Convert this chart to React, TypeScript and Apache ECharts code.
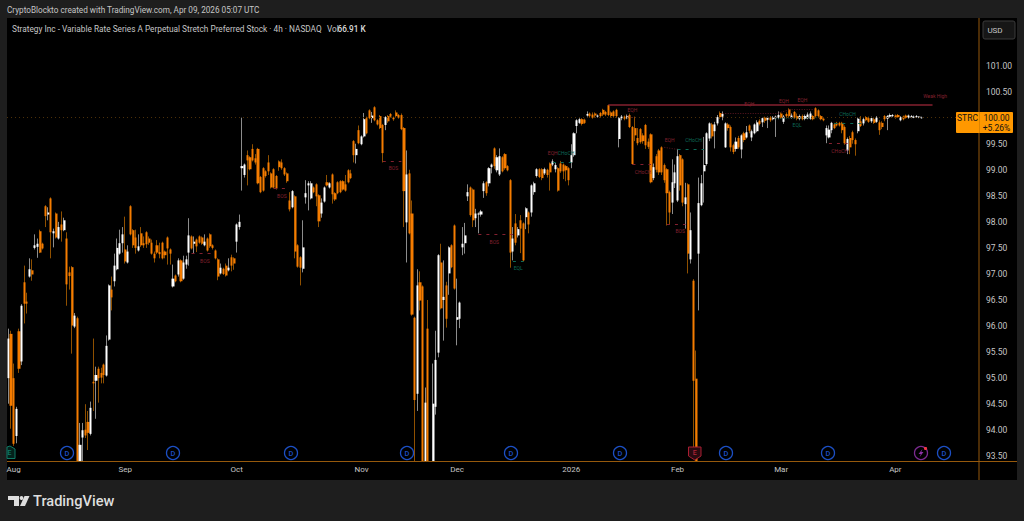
import React, { useEffect, useRef } from "react";
import * as echarts from "echarts";

// [open, close, low, high]
const barsAug = [
[95.0,95.76,94.51,95.95],[95.85,94.47,94.03,95.91],[95.0,93.74,93.7,95.28],[93.89,94.41,93.75,94.45],[95.9,95.18,95.1,95.95],[95.32,96.39,95.25,96.42],[96.84,96.43,96.05,97.16],[96.47,96.43,96.24,96.64],[96.95,97.09,96.93,97.3],[97.07,96.99,96.87,97.28],[97.5,97.55,97.47,97.76],[97.52,97.58,97.31,97.68],[97.82,97.41,97.4,97.85],[97.58,97.49,97.47,97.6],[98.3,98.11,97.9,98.32],[98.14,98.18,98.03,98.28],[98.45,97.8,97.3,98.47],[97.78,97.82,97.51,97.87],[98.16,97.7,97.68,98.18],[97.68,97.9,97.66,98.0],[97.95,97.84,97.62,98.2],[97.84,98.03,97.82,98.08],[97.68,96.8,96.39,97.8],[97.03,96.96,96.7,97.14],[97.13,96.01,95.47,97.15],[95.99,96.2,95.96,96.25],[96.15,93.3,93.2,96.18],[93.3,93.72,93.2,94.14],[93.86,94.0,93.3,94.14],[94.01,93.9,93.85,94.5],[94.16,93.95,93.62,94.37],[93.93,94.43,93.9,94.55],[94.93,94.9,94.37,95.76],[94.95,95.06,94.22,95.22],[95.18,95.0,94.53,95.22],[95.1,95.01,94.9,95.2],[95.26,95.06,94.9,95.28],[95.05,95.62,95.03,95.82],[95.74,96.78,95.72,96.8],[96.7,96.55,96.3,96.95],[96.86,97.16,96.76,97.39],[97.09,97.5,97.07,97.68],[97.39,97.59,97.37,97.85],[97.59,97.76,97.41,97.9],
];
const barsSep = [
[97.47,97.24,97.2,98.1],[97.22,97.43,97.2,97.55],[98.3,97.76,97.74,98.32],[97.84,97.55,97.5,97.86],[97.7,97.5,97.39,97.85],[97.45,97.53,97.43,97.76],[97.78,97.55,97.52,97.9],[97.59,97.55,97.5,97.72],[97.8,97.57,97.5,97.82],[97.68,97.6,97.56,97.72],[97.6,97.39,97.37,97.66],[97.39,97.3,97.22,97.43],[97.55,97.41,97.38,97.65],[97.42,97.38,97.3,97.6],[97.6,97.3,97.28,97.62],[97.43,97.36,97.3,97.45],[97.7,97.49,97.18,97.72],[97.47,97.39,97.18,97.49],[96.76,96.91,96.74,97.18],[96.97,96.86,96.84,96.99],[96.99,97.26,96.95,97.3],[97.26,96.86,96.84,97.28],[96.91,97.22,96.89,97.35],[97.18,97.28,97.1,97.35],[97.41,97.74,97.16,98.07],[97.72,97.49,97.47,97.74],[97.58,97.62,97.4,97.72],[97.66,97.53,97.42,97.68],[97.72,97.6,97.58,97.74],[97.7,97.58,97.56,97.72],[97.55,97.62,97.53,97.76],[97.68,97.45,97.43,97.7],[97.76,97.53,97.5,97.78],[97.55,97.5,97.47,97.57],[97.45,97.3,97.28,97.47],[97.28,96.95,96.88,97.3],[97.01,97.12,96.99,97.2],[97.1,97.0,96.98,97.12],[97.16,96.97,96.95,97.2],[97.07,97.12,97.05,97.3],[97.32,97.16,97.05,97.37],[97.3,97.2,97.08,97.32],
];
const barsOct = [
[97.62,97.95,97.41,97.97],[97.9,98.0,97.85,98.14],[99.03,99.07,98.6,100.0],[98.9,99.1,98.85,99.12],[99.28,99.18,98.7,99.37],[99.24,99.01,98.99,99.26],[99.4,99.18,99.16,99.49],[99.22,99.14,99.1,99.3],[99.4,98.74,98.72,99.42],[98.86,98.57,98.55,98.88],[99.03,98.6,98.58,99.05],[98.97,98.88,98.85,98.99],[99.14,98.97,98.9,99.28],[98.93,98.66,98.64,98.95],[99.01,98.66,98.64,99.03],[98.88,98.64,98.62,98.9],[99.16,99.05,98.98,99.18],[99.14,99.03,99.0,99.2],[99.03,98.91,98.88,99.05],[98.93,98.78,98.75,98.95],[98.41,98.24,98.2,98.57],[98.28,98.59,98.26,98.61],[98.49,97.43,97.3,98.51],[97.55,97.14,97.12,97.57],[97.32,97.12,96.78,97.34],[97.1,97.51,97.03,98.03],[98.47,98.55,98.35,98.8],[98.7,98.74,98.22,98.78],[98.45,98.74,98.43,98.78],[98.66,98.57,98.55,98.68],[98.72,98.49,98.3,98.74],[98.51,98.01,97.9,98.53],[98.16,98.37,98.08,98.45],[98.39,98.66,98.37,98.68],[98.76,98.7,98.68,98.9],[98.66,98.74,98.64,98.76],[98.91,98.53,98.35,98.93],[98.55,98.43,98.4,98.57],[98.76,98.55,98.53,98.78],[98.78,98.57,98.55,98.8],[98.78,98.62,98.6,98.8],[98.72,98.6,98.58,98.9],[98.99,98.76,98.74,99.01],[98.93,98.84,98.82,99.0],[99.55,99.28,99.14,99.57],[99.28,99.4,99.12,99.5],
];
const barsNov = [
[99.76,99.51,99.49,99.85],[99.49,99.64,99.47,99.66],[99.64,99.97,99.62,100.09],[99.99,99.7,99.68,100.02],[100.14,99.99,99.97,100.16],[99.99,100.04,99.9,100.11],[100.2,99.95,99.93,100.22],[99.95,99.87,99.85,99.97],[100.03,99.8,99.78,100.05],[99.86,99.32,99.14,99.88],[99.86,100.01,99.76,100.03],[100.03,99.93,99.9,100.05],[100.07,100.02,100.0,100.09],[100.0,99.97,99.94,100.02],[100.1,100.03,100.0,100.14],[100.05,100.0,99.98,100.07],[100.05,99.78,99.76,100.08],[99.8,98.59,97.9,99.82],[97.99,98.91,97.22,99.37],[98.93,97.78,97.76,99.0],[98.16,96.22,96.2,98.41],[96.16,94.58,93.3,96.18],[94.7,96.78,94.37,97.09],[96.84,96.49,96.3,97.05],[96.76,93.3,93.2,96.78],[93.3,94.53,93.2,94.82],[95.95,93.3,93.2,96.5],[93.3,93.2,93.1,93.35],[93.3,94.51,93.2,95.28],[94.45,95.35,94.3,95.91],[95.49,97.36,95.4,97.38],[97.22,96.34,96.32,97.58],[96.5,96.56,95.72,97.26],[96.78,96.14,95.97,96.85],[97.01,97.51,96.6,97.53],[97.55,97.13,97.11,97.57],
];
const barsDec = [
[97.93,96.72,96.7,97.95],[96.12,96.17,95.63,96.91],[96.14,96.45,95.96,96.47],[97.51,97.58,97.36,97.9],[97.59,97.74,97.39,97.98],[98.49,98.57,98.4,98.72],[98.66,98.13,98.1,98.68],[98.62,98.03,97.9,98.64],[98.07,98.16,97.9,98.25],[98.14,98.16,97.78,98.18],[98.14,98.2,98.1,98.23],[98.59,98.74,98.46,98.78],[98.76,98.55,98.5,98.78],[98.74,99.03,98.68,99.05],[99.05,99.1,98.93,99.12],[99.41,99.07,99.02,99.43],[98.99,99.24,98.95,99.28],[98.91,99.26,98.88,99.41],[99.24,98.97,98.95,99.26],[99.3,99.03,99.0,99.32],[99.07,98.99,98.97,99.09],[98.8,97.41,97.12,98.82],[97.43,97.68,97.26,97.9],[97.97,97.6,97.55,98.15],[97.74,97.86,97.7,97.9],[98.03,97.87,97.4,98.13],[97.97,97.26,97.24,97.99],[98.09,98.26,97.86,98.28],[98.18,97.95,97.78,98.2],[98.18,98.7,98.1,98.72],[98.57,98.74,98.52,98.77],[98.88,99.01,98.85,99.03],[99.01,98.86,98.84,99.03],[99.01,98.84,98.8,99.03],[98.93,99.01,98.9,99.04],[99.0,98.9,98.85,99.02],[99.12,98.95,98.6,99.14],[99.1,99.16,99.07,99.2],[99.01,99.09,98.95,99.13],[99.03,98.6,98.58,99.05],[99.12,98.97,98.94,99.17],[99.1,98.97,98.82,99.12],[99.07,98.99,98.78,99.09],[99.03,98.8,98.7,99.05],
];
const barsJan = [
[99.14,99.28,99.03,99.49],[99.28,99.7,99.25,99.72],[99.84,99.95,99.7,99.97],[99.9,99.97,99.88,99.99],[99.97,99.88,99.85,99.99],[99.96,99.9,99.88,99.98],[100.04,100.07,100.02,100.12],[100.08,100.03,100.0,100.1],[100.06,100.0,99.98,100.1],[100.08,100.04,100.0,100.1],[100.02,100.04,100.0,100.06],[100.09,100.03,100.0,100.11],[100.15,100.06,100.03,100.17],[100.11,100.06,100.03,100.13],[100.24,100.05,100.03,100.25],[100.1,100.03,100.0,100.12],[100.12,100.03,100.0,100.14],[100.15,100.03,100.0,100.17],[99.59,99.99,99.43,100.01],[99.99,100.02,99.95,100.05],[100.02,99.98,99.95,100.04],[99.99,100.03,99.97,100.06],[100.05,99.82,99.8,100.08],[99.82,99.11,99.1,99.84],[99.8,99.66,99.55,100.02],[99.61,99.51,99.47,99.8],[99.78,99.53,99.5,99.8],[99.66,99.55,99.5,99.7],[99.86,99.47,99.4,99.88],[99.54,99.44,99.4,99.6],[99.68,98.76,98.74,99.7],[98.84,99.05,98.8,99.12],[99.26,99.0,98.95,99.3],[99.37,98.95,98.9,99.4],[99.43,98.95,98.9,99.45],[99.09,98.8,98.75,99.12],[99.01,98.55,97.93,99.03],[98.57,98.18,97.95,98.6],[98.37,98.76,98.15,99.2],[98.74,98.95,98.65,99.1],
];
const barsFeb = [
[98.41,99.26,98.38,99.4],[99.28,98.7,98.6,99.3],[99.2,98.37,98.3,99.22],[98.34,98.47,97.87,98.75],[98.72,97.39,97.01,98.74],[97.28,97.84,97.2,98.18],[96.87,94.95,93.66,96.9],[94.99,93.3,93.2,95.53],[97.39,98.36,96.3,98.85],[98.32,98.74,98.3,98.9],[98.97,99.09,98.37,99.63],[99.11,99.7,99.08,99.72],[99.6,99.89,99.55,99.91],[99.87,99.64,99.6,99.9],[99.74,99.87,99.41,99.92],[99.89,100.01,99.85,100.05],[100.09,100.01,99.98,100.12],[100.02,100.07,99.95,100.12],[99.43,99.89,99.42,99.91],[99.87,99.8,99.75,99.9],[99.82,99.43,99.35,99.85],[99.47,99.34,99.3,99.5],[99.4,99.54,99.35,99.62],[99.61,99.43,99.4,99.65],[99.39,99.66,99.22,99.68],[99.7,99.57,99.53,99.73],[99.62,99.72,99.6,99.84],[99.85,99.75,99.7,99.87],[99.62,99.74,99.55,99.77],[99.7,99.87,99.68,99.89],[99.74,99.91,99.72,99.95],[99.94,99.88,99.85,99.97],[99.91,99.99,99.82,100.0],[100.0,99.94,99.9,100.02],[99.96,100.0,99.8,100.02],[100.0,99.95,99.92,100.03],[99.97,100.0,99.95,100.03],[100.0,100.02,99.63,100.04],[100.0,100.05,99.97,100.12],
];
const barsMar = [
[100.08,100.0,99.98,100.1],[99.92,100.02,99.88,100.05],[100.07,100.03,100.0,100.1],[100.16,100.03,100.0,100.18],[100.0,100.04,99.98,100.08],[100.11,100.0,99.98,100.13],[100.03,99.98,99.95,100.08],[99.98,100.03,99.95,100.06],[100.03,99.97,99.95,100.06],[99.98,100.03,99.95,100.06],[99.99,100.06,99.97,100.1],[99.98,100.08,99.96,100.12],[100.03,99.97,99.95,100.05],[100.18,100.03,100.0,100.2],[100.14,100.03,100.0,100.16],[100.03,99.97,99.95,100.05],[99.98,99.95,99.93,99.99],[99.66,99.8,99.51,99.85],[99.62,99.77,99.6,99.85],[99.76,99.9,99.7,99.92],[99.87,99.8,99.78,99.9],[99.9,99.85,99.83,99.92],[99.9,99.85,99.83,99.92],[99.9,99.76,99.7,99.92],[99.82,99.51,99.48,99.85],[99.37,99.59,99.3,99.62],[99.61,99.43,99.3,99.65],[99.72,99.57,99.5,99.75],[99.57,99.49,99.27,99.6],[99.74,99.98,99.7,100.0],[99.93,99.84,99.82,100.03],[99.89,99.97,99.85,100.0],[100.01,99.95,99.93,100.03],[99.99,99.92,99.9,100.02],[99.93,99.99,99.9,100.02],[99.97,99.9,99.88,100.0],[99.92,100.0,99.9,100.03],[99.91,99.76,99.67,99.95],[99.9,99.82,99.78,99.93],[100.03,99.97,99.93,100.05],[99.98,100.03,99.76,100.05],[100.02,100.05,100.0,100.08],[100.03,100.05,100.01,100.07],
];
const barsApr = [
[100.04,100.0,99.98,100.06],[100.05,100.01,100.0,100.07],[99.95,100.01,99.93,100.03],[100.02,99.97,99.95,100.04],[100.04,100.0,99.98,100.06],[100.0,100.04,99.98,100.06],[100.0,100.03,99.99,100.05],[100.0,100.02,99.99,100.04],[100.01,100.03,100.0,100.05],[100.0,100.02,99.99,100.03],[99.99,100.0,99.98,100.02],
];
const allBars = [...barsAug, ...barsSep, ...barsOct, ...barsNov, ...barsDec, ...barsJan, ...barsFeb, ...barsMar, ...barsApr];

const slotCount = 366;
const axisMin = 93.4;
const axisMax = 101.913;
const monthLabels = ["Aug", "Sep", "Oct", "Nov", "Dec", "2026", "Feb", "Mar", "Apr"];
const monthSlots = [2, 44, 86, 133, 169, 212, 252, 291, 334];
const priceTicks = [93.5, 94, 94.5, 95, 95.5, 96, 96.5, 97, 97.5, 98, 98.5, 99, 99.5, 100.5, 101];

const RED = "#84202f";
const TEAL = "#0d6b58";
// [slotA, slotB, priceA, priceB, colour kind, style]
const structureLines: [number, number, number, number, string, string][] = [
  [226, 348, 100.24, 100.24, "r", "solid"],
  [69, 77, 97.39, 97.39, "r", "dashed"],
  [100, 106, 98.64, 98.64, "r", "dashed"],
  [141, 148, 99.16, 99.16, "r", "dashed"],
  [177, 190, 97.76, 97.76, "r", "dashed"],
  [190, 194, 97.24, 97.24, "t", "dashed"],
  [205, 212, 99.14, 99.14, "t", "dashed"],
  [233, 236, 100.03, 99.99, "r", "dotted"],
  [235, 242, 99.11, 99.11, "r", "dashed"],
  [247, 252, 99.43, 99.39, "r", "dotted"],
  [252, 262, 99.39, 99.39, "t", "dashed"],
  [248, 255, 97.95, 97.95, "r", "dashed"],
  [269, 290, 100.09, 100.09, "r", "dotted"],
  [290, 294, 100.09, 100.15, "r", "dotted"],
  [294, 304, 100.16, 100.16, "r", "dotted"],
  [289, 305, 99.98, 100.0, "t", "dotted"],
  [311, 321, 99.9, 99.9, "t", "dashed"],
  [309, 316, 99.51, 99.51, "r", "dashed"],
];
// [slot, price, text, colour kind]
const structureLabels: [number, number, string, string][] = [
  [74, 97.24, "BOS", "r"],
  [103, 98.49, "BOS", "r"],
  [145, 99.03, "BOS", "r"],
  [183, 97.61, "BOS", "r"],
  [192, 97.11, "EQL", "t"],
  [205, 99.32, "EQH", "r"],
  [210, 99.32, "CHoCH", "t"],
  [235, 100.14, "EQH", "r"],
  [239, 98.95, "CHoCH", "r"],
  [249, 99.57, "EQH", "r"],
  [258, 99.57, "CHoCH", "t"],
  [252.5, 97.82, "BOS", "r"],
  [279, 100.26, "EQH", "r"],
  [292, 100.32, "EQH", "r"],
  [299, 100.34, "EQH", "r"],
  [297, 99.86, "EQL", "t"],
  [316, 100.07, "CHoCH", "t"],
  [313, 99.36, "CHoCH", "r"],
  [348.5, 100.41, "Weak High", "r"],
];
const dividendMarks = [67, 173, 291, 407, 511, 620, 726, 828, 944];

const FONT = "Roboto";
const TXT = "#c6c6c6";

function App() {
  const ref = useRef<HTMLDivElement>(null);
  useEffect(() => {
    const chart = echarts.init(ref.current!, null, { renderer: "svg" });
    const categories = Array.from({ length: slotCount }, (_, i) => {
      const m = monthSlots.indexOf(i);
      return m >= 0 ? monthLabels[m] : "s" + i;
    });
    const floorAt = (v: number) => Math.max(v, axisMin);
    const wickData = allBars.map(([o, c, l, h]) => (c < o ? [floorAt(o), floorAt(c) - 0.0001, floorAt(l), floorAt(h)] : [floorAt(o), floorAt(c) + 0.0001, floorAt(l), floorAt(h)]));
    const bodyData = wickData.map(([o, c]) => [o, c, Math.min(o, c), Math.max(o, c)]);
    const colorOf = (k: string) => (k === "r" ? RED : TEAL);

    const lines: any[] = structureLines.map(([a, b, p, q, k, s], i) => [
      {
        coord: [a, p],
        lineStyle: {
          color: colorOf(k),
          type: s === "dashed" ? [3, 5] : s === "dotted" ? [1, 1.5] : "solid",
          width: i === 0 ? 1.6 : s === "dashed" ? 1 : 0.7,
          opacity: 1,
        },
      },
      { coord: [b, q] },
    ]);
    lines.push({ yAxis: 100, lineStyle: { color: "#4d3009", type: [1, 3], width: 1, opacity: 1 } });

    const graphics: any[] = [
      { type: "rect", z: -10, silent: true, shape: { x: 7, y: 18, width: 1010, height: 462 }, style: { fill: "#000" } },
      { type: "rect", z: 5, shape: { x: 978.5, y: 18, width: 1, height: 462 }, style: { fill: "#96590c" } },
      { type: "rect", z: 5, shape: { x: 7, y: 461, width: 1010, height: 1 }, style: { fill: "#96590c" } },
      { type: "text", z: 20, x: 7, y: 10, style: { text: "CryptoBlockto created with TradingView.com, Apr 09, 2026 05:07 UTC", fill: TXT, font: `400 8.2px ${FONT}`, verticalAlign: "middle" } },
      { type: "text", z: 20, x: 12, y: 28.5, style: { text: "Strategy Inc - Variable Rate Series A Perpetual Stretch Preferred Stock · 4h · NASDAQ", fill: TXT, font: `400 8.28px ${FONT}`, verticalAlign: "middle" } },
      { type: "text", z: 20, x: 327, y: 28.5, style: { text: "Vol", fill: TXT, font: `400 8.2px ${FONT}`, verticalAlign: "middle" } },
      { type: "text", z: 20, x: 337.5, y: 28.5, style: { text: "66.91 K", fill: "#dcdcdc", font: `500 8.2px ${FONT}`, verticalAlign: "middle" } },
      // currency button
      { type: "rect", z: 20, shape: { x: 983, y: 21, width: 32, height: 18, r: 2 }, style: { fill: "#161616", stroke: "#3a3a3a", lineWidth: 1 } },
      { type: "text", z: 21, x: 995, y: 30, style: { text: "USD", fill: TXT, font: `400 8px ${FONT}`, align: "center", verticalAlign: "middle" } },
      // last price tag
      { type: "rect", z: 20, shape: { x: 956, y: 112, width: 57, height: 21, r: 1 }, style: { fill: "#ff9800" } },
      { type: "line", z: 21, shape: { x1: 979.5, y1: 112, x2: 979.5, y2: 133 }, style: { stroke: "#c97800", lineWidth: 0.6 } },
      { type: "text", z: 21, x: 967.5, y: 117.5, style: { text: "STRC", fill: "#111", font: `400 8.5px ${FONT}`, align: "center", verticalAlign: "middle" } },
      { type: "text", z: 21, x: 996.5, y: 117.5, style: { text: "100.00", fill: "#111", font: `400 8.5px ${FONT}`, align: "center", verticalAlign: "middle" } },
      { type: "text", z: 21, x: 996.5, y: 127.5, style: { text: "+5.26%", fill: "#111", font: `400 8.5px ${FONT}`, align: "center", verticalAlign: "middle" } },
      // TradingView mark
      { type: "polygon", z: 20, shape: { points: [[8, 496], [19, 496], [19, 506], [14, 506], [14, 500], [8, 500]] }, style: { fill: "#dedede" } },
      { type: "circle", z: 20, shape: { cx: 21.5, cy: 498, r: 1.9 }, style: { fill: "#dedede" } },
      { type: "polygon", z: 20, shape: { points: [[24.5, 496], [29.5, 496], [25, 506], [20, 506]] }, style: { fill: "#dedede" } },
      { type: "text", z: 20, x: 33, y: 501, style: { text: "TradingView", fill: "#dedede", font: `500 14.6px ${FONT}`, verticalAlign: "middle" } },
      // earnings and power marks
      { type: "polygon", z: 15, shape: { points: [[7, 447], [10, 446], [15, 449], [15, 458.5], [7, 458.5]] }, style: { fill: "#04211c", stroke: "#0f7a65", lineWidth: 1 } },
      { type: "text", z: 16, x: 9.5, y: 453, style: { text: "E", fill: "#0f7a65", font: `500 7px ${FONT}`, align: "center", verticalAlign: "middle" } },
      { type: "polygon", z: 15, shape: { points: [[688.5, 447], [701, 447], [701, 456], [694.8, 460], [688.5, 456]] }, style: { fill: "#2a0a10", stroke: "#a81e32", lineWidth: 1 } },
      { type: "text", z: 16, x: 694.8, y: 453, style: { text: "E", fill: "#b02438", font: `500 7px ${FONT}`, align: "center", verticalAlign: "middle" } },
      { type: "circle", z: 15, shape: { cx: 921, cy: 453, r: 6.5 }, style: { fill: "#000", stroke: "#7b2a90", lineWidth: 1.3 } },
      { type: "polygon", z: 16, shape: { points: [[922.5, 449], [918.5, 454], [920.8, 454], [919.7, 457], [923.5, 452], [921.3, 452]] }, style: { fill: "#8d30a6" } },
      { type: "circle", z: 17, shape: { cx: 925.5, cy: 448.5, r: 1.6 }, style: { fill: "#f23645" } },
    ];
    dividendMarks.forEach((x) => {
      graphics.push({ type: "circle", z: 15, shape: { cx: x, cy: 453, r: 6.5 }, style: { fill: "#000", stroke: "#1c4fc4", lineWidth: 1.3 } });
      graphics.push({ type: "text", z: 16, x, y: 453, style: { text: "D", fill: "#1c4fc4", font: `500 7.5px ${FONT}`, align: "center", verticalAlign: "middle" } });
    });

    chart.setOption({
      animation: false,
      backgroundColor: "#1e1e1e",
      textStyle: { fontFamily: FONT },
      grid: { left: 7, right: 45, top: 18, bottom: 59.5 },
      xAxis: {
        type: "category",
        data: categories,
        boundaryGap: true,
        axisLine: { show: false },
        axisTick: { show: false },
        splitLine: { show: false },
        axisLabel: {
          interval: (_: number, v: string) => monthLabels.includes(v),
          color: TXT,
          fontSize: 8,
          fontFamily: FONT,
          margin: 4,
        },
      },
      yAxis: {
        type: "value",
        position: "right",
        min: axisMin,
        max: axisMax,
        scale: true,
        axisLine: { show: false },
        axisTick: { show: false },
        splitLine: { show: false },
        axisLabel: { customValues: priceTicks, color: TXT, fontSize: 8.5, fontFamily: FONT, margin: 7, formatter: (v: number) => v.toFixed(2) },
      },
      graphic: { elements: graphics },
      series: [
        {
          name: "wicks",
          type: "candlestick",
          data: wickData,
          barWidth: 1,
          clip: true,
          silent: true,
          itemStyle: { color: "#8c8c8c", color0: "#8f5000", borderColor: "#8c8c8c", borderColor0: "#8f5000", borderWidth: 1 },
        },
        {
          name: "STRC",
          type: "candlestick",
          data: bodyData,
          barWidth: 2.6,
          clip: true,
          silent: true,
          itemStyle: { color: "#ffffff", color0: "#f57c00", borderWidth: 0 },
          markLine: { silent: true, symbol: "none", label: { show: false }, data: lines },
          markPoint: {
            silent: true,
            symbol: "circle",
            symbolSize: 0,
            data: structureLabels.map(([s, p, t, k]) => ({
              coord: [s, p],
              label: { show: true, position: "inside", formatter: t, color: colorOf(k), fontSize: 5, fontFamily: FONT },
            })),
          },
        },
      ],
    });
    return () => chart.dispose();
  }, []);
  return <div ref={ref} style={{ position: "absolute", left: 0, top: 0, width: 1024, height: 521 }} />;
}

export default App;
